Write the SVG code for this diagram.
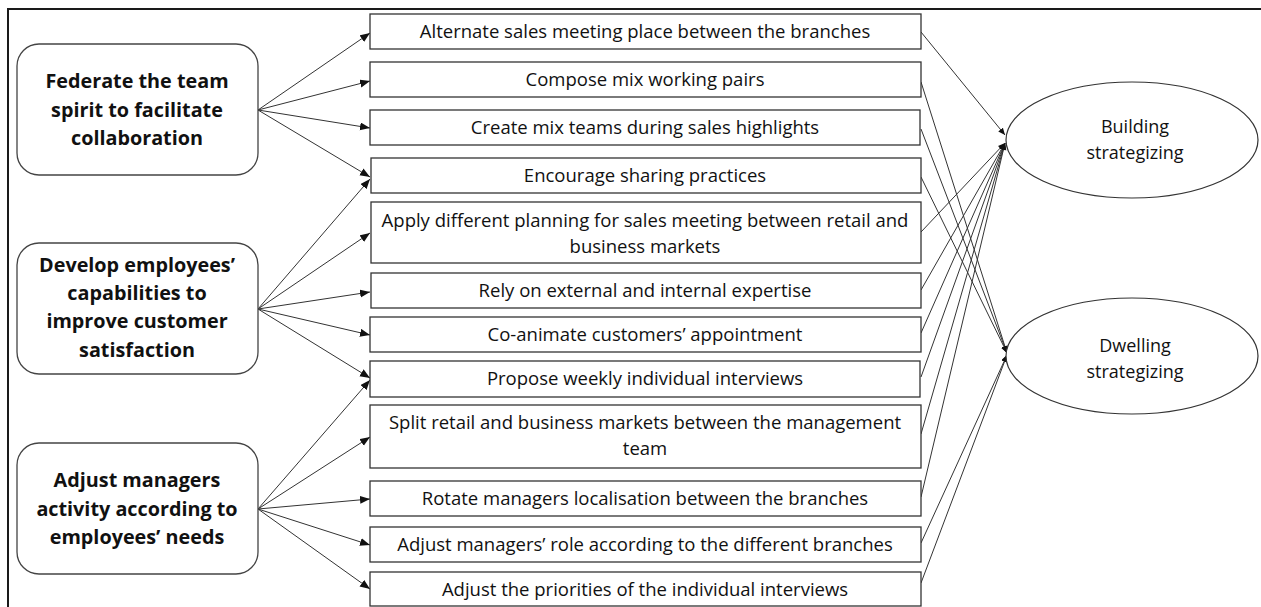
<svg xmlns="http://www.w3.org/2000/svg" width="1261" height="607" viewBox="0 0 1261 607">
<style>
.frame{fill:none;stroke:#1a1a1a;stroke-width:2}
.goal{fill:#fff;stroke:#444;stroke-width:1.3}
.act{fill:#fff;stroke:#333;stroke-width:1.3}
.ell{fill:#fff;stroke:#333;stroke-width:1.2}
.gt{font-family:"Open Sans","Liberation Sans",sans-serif;font-weight:bold;font-size:19.8px;fill:#111;text-anchor:middle}
.at{font-family:"Open Sans","Liberation Sans",sans-serif;font-size:18.5px;fill:#111;text-anchor:middle}
.et{font-family:"Open Sans","Liberation Sans",sans-serif;font-size:18px;fill:#111;text-anchor:middle}
.cl{stroke:#333;stroke-width:1;fill:none}
.la{marker-end:url(#ah)}
.ra{marker-end:url(#ahs)}
</style>
<defs>
<marker id="ah" markerUnits="userSpaceOnUse" markerWidth="12" markerHeight="10" refX="10" refY="4" orient="auto"><path d="M0,0 L10,4 L0,8 z" fill="#111"/></marker>
<marker id="ahs" markerUnits="userSpaceOnUse" markerWidth="10" markerHeight="8" refX="7" refY="3" orient="auto"><path d="M0,0 L7,3 L0,6 z" fill="#111"/></marker>
</defs>
<path class="frame" d="M8,607 V9 H1261"/>
<g id="connectors">
<line class="cl la" x1="258" y1="110" x2="370" y2="33"/>
<line class="cl la" x1="258" y1="110" x2="370" y2="81"/>
<line class="cl la" x1="258" y1="110" x2="370" y2="128"/>
<line class="cl la" x1="258" y1="110" x2="370" y2="177"/>
<line class="cl la" x1="258" y1="309" x2="370" y2="179"/>
<line class="cl la" x1="258" y1="309" x2="370" y2="233"/>
<line class="cl la" x1="258" y1="309" x2="370" y2="292"/>
<line class="cl la" x1="258" y1="309" x2="370" y2="335"/>
<line class="cl la" x1="258" y1="309" x2="370" y2="378"/>
<line class="cl la" x1="258" y1="509" x2="370" y2="380"/>
<line class="cl la" x1="258" y1="509" x2="370" y2="437"/>
<line class="cl la" x1="258" y1="509" x2="370" y2="499"/>
<line class="cl la" x1="258" y1="509" x2="370" y2="545"/>
<line class="cl la" x1="258" y1="509" x2="370" y2="589"/>
<line class="cl ra" x1="921" y1="32" x2="1005" y2="135"/>
<line class="cl ra" x1="921" y1="82" x2="1007" y2="353"/>
<line class="cl ra" x1="921" y1="129" x2="1007" y2="353"/>
<line class="cl ra" x1="921" y1="177" x2="1007" y2="353"/>
<line class="cl ra" x1="921" y1="232" x2="1005" y2="143"/>
<line class="cl ra" x1="921" y1="290" x2="1005" y2="143"/>
<line class="cl ra" x1="921" y1="333" x2="1005" y2="143"/>
<line class="cl ra" x1="921" y1="377" x2="1005" y2="143"/>
<line class="cl ra" x1="921" y1="434" x2="1005" y2="143"/>
<line class="cl ra" x1="921" y1="497" x2="1005" y2="143"/>
<line class="cl ra" x1="921" y1="543" x2="1007" y2="355"/>
<line class="cl ra" x1="921" y1="583" x2="1007" y2="355"/>
</g>
<g id="goal1"><rect class="goal" x="17" y="44" width="241" height="131" rx="22"/>
<text class="gt" x="137" y="88">Federate the team</text><text class="gt" x="137" y="117">spirit to facilitate</text><text class="gt" x="137" y="145">collaboration</text></g>
<g id="goal2"><rect class="goal" x="17" y="243" width="241" height="131" rx="22"/>
<text class="gt" x="137" y="272">Develop employees’</text><text class="gt" x="137" y="300">capabilities to</text><text class="gt" x="137" y="328">improve customer</text><text class="gt" x="137" y="357">satisfaction</text></g>
<g id="goal3"><rect class="goal" x="17" y="443" width="241" height="131" rx="22"/>
<text class="gt" x="137" y="487">Adjust managers</text><text class="gt" x="137" y="516">activity according to</text><text class="gt" x="137" y="544">employees’ needs</text></g>
<g id="a1"><rect class="act" x="370" y="14" width="551" height="35"/><text class="at" x="645" y="38">Alternate sales meeting place between the branches</text></g>
<g id="a2"><rect class="act" x="370" y="62" width="551" height="35"/><text class="at" x="645" y="86">Compose mix working pairs</text></g>
<g id="a3"><rect class="act" x="370" y="110" width="550" height="35"/><text class="at" x="645" y="134">Create mix teams during sales highlights</text></g>
<g id="a4"><rect class="act" x="371" y="158" width="550" height="35"/><text class="at" x="645" y="182">Encourage sharing practices</text></g>
<g id="a5"><rect class="act" x="371" y="202" width="550" height="61"/><text class="at" x="645" y="227">Apply different planning for sales meeting between retail and</text><text class="at" x="645" y="253">business markets</text></g>
<g id="a6"><rect class="act" x="371" y="273" width="550" height="35"/><text class="at" x="645" y="297">Rely on external and internal expertise</text></g>
<g id="a7"><rect class="act" x="370" y="317" width="551" height="35"/><text class="at" x="645" y="341">Co-animate customers’ appointment</text></g>
<g id="a8"><rect class="act" x="370" y="361" width="550" height="36"/><text class="at" x="645" y="385">Propose weekly individual interviews</text></g>
<g id="a9"><rect class="act" x="370" y="405" width="551" height="63"/><text class="at" x="645" y="429">Split retail and business markets between the management</text><text class="at" x="645" y="455">team</text></g>
<g id="a10"><rect class="act" x="370" y="481" width="551" height="35"/><text class="at" x="645" y="505">Rotate managers localisation between the branches</text></g>
<g id="a11"><rect class="act" x="370" y="527" width="551" height="35"/><text class="at" x="645" y="551">Adjust managers’ role according to the different branches</text></g>
<g id="a12"><rect class="act" x="370" y="572" width="551" height="34"/><text class="at" x="645" y="596">Adjust the priorities of the individual interviews</text></g>
<g id="building"><ellipse class="ell" cx="1132" cy="140" rx="126" ry="58"/><text class="et" x="1135" y="133">Building</text><text class="et" x="1135" y="159">strategizing</text></g>
<g id="dwelling"><ellipse class="ell" cx="1132" cy="356" rx="126" ry="58"/><text class="et" x="1135" y="352">Dwelling</text><text class="et" x="1135" y="378">strategizing</text></g>
</svg>
